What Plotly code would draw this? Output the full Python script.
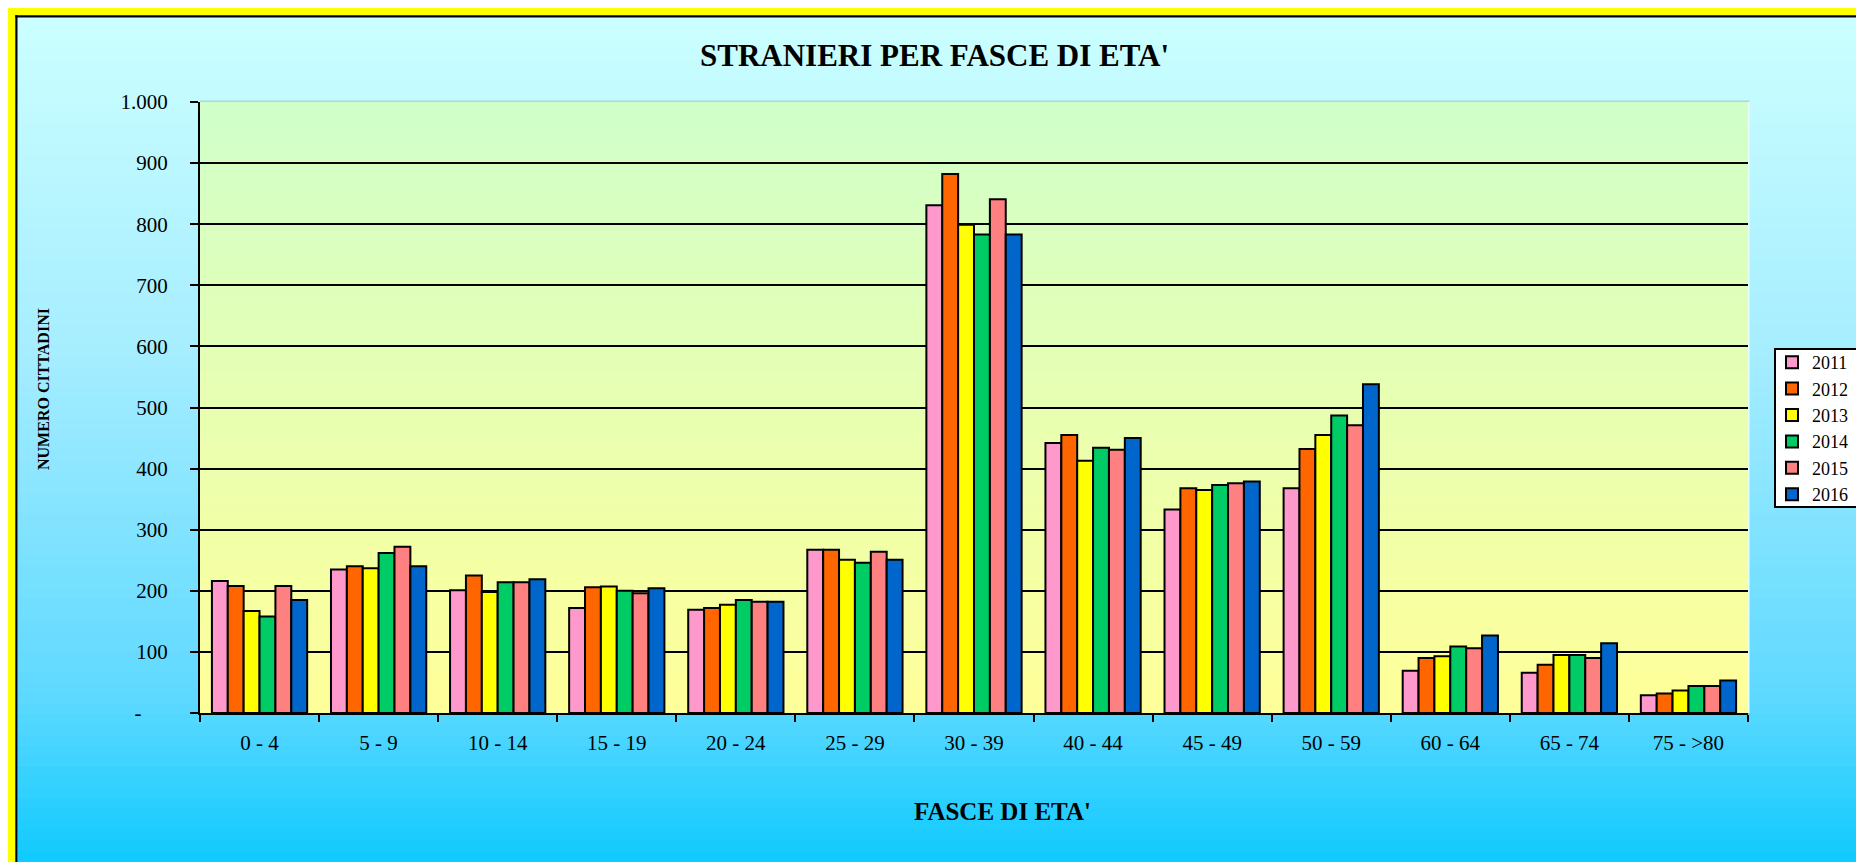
import plotly.graph_objects as go

# ---------------- data ----------------
categories = ["0 - 4", "5 - 9", "10 - 14", "15 - 19", "20 - 24", "25 - 29", "30 - 39",
              "40 - 44", "45 - 49", "50 - 59", "60 - 64", "65 - 74", "75 - >80"]
years = ["2011", "2012", "2013", "2014", "2015", "2016"]
v2011 = [216, 235, 201, 172, 169, 267, 831, 442, 333, 368, 69, 66, 29]
v2012 = [208, 240, 225, 206, 172, 267, 882, 455, 368, 432, 90, 79, 32]
v2013 = [167, 237, 198, 207, 177, 251, 799, 413, 365, 455, 93, 95, 37]
v2014 = [158, 262, 214, 200, 185, 246, 783, 434, 373, 487, 109, 95, 44]
v2015 = [208, 272, 214, 196, 182, 264, 841, 431, 376, 471, 106, 90, 44]
v2016 = [185, 240, 219, 204, 182, 251, 783, 450, 379, 538, 127, 114, 53]
series = [v2011, v2012, v2013, v2014, v2015, v2016]
colors = ["#FF99CC", "#FF6600", "#FFFF00", "#00CC66", "#FF8080", "#0066CC"]

ytick_vals = [0, 100, 200, 300, 400, 500, 600, 700, 800, 900, 1000]
ytick_text = ["-\u2007\u2007\u00a0", "100", "200", "300", "400", "500", "600", "700",
              "800", "900", "1.000"]

# ---------------- geometry (page pixels, body margin removed) ----------------
W, H = 1856, 862
L, R, T, B = 200, 108, 102, 149
PW, PH = W - L - R, H - T - B


def px(x):
    return (x - L) / PW


def py(y):
    return (H - B - y) / PH


def lerp_color(stops, t):
    for i in range(len(stops) - 1):
        t0, c0 = stops[i]
        t1, c1 = stops[i + 1]
        if t0 <= t <= t1:
            f = (t - t0) / (t1 - t0) if t1 > t0 else 0
            c = [round(c0[k] + (c1[k] - c0[k]) * f) for k in range(3)]
            return "rgb(%d,%d,%d)" % tuple(c)
    c = stops[-1][1]
    return "rgb(%d,%d,%d)" % tuple(c)


def rect(x0, y0, x1, y1, color):
    return dict(type="rect", xref="paper", yref="paper", x0=px(x0), x1=px(x1), y0=py(y1), y1=py(y0),
                fillcolor=color, line=dict(width=0), layer="below")


shapes = []
# outer gradient (chart area)
outer_stops = [(0.0, (204, 255, 255)), (0.4, (165, 237, 255)), (0.8, (95, 217, 255)), (1.0, (15, 202, 255))]
n = 80
y_top, y_bot = 17.5, H
for i in range(n):
    a = y_top + (y_bot - y_top) * i / n
    b = y_top + (y_bot - y_top) * (i + 1) / n + (0.8 if i < n - 1 else 0)
    shapes.append(rect(17.5, a, W, b, lerp_color(outer_stops, (i + 0.5) / n)))
# yellow frame (left + top) and black inner line
shapes.append(rect(8, 8, 15.3, H, "#FFFF00"))
shapes.append(rect(8, 8, W, 15.3, "#FFFF00"))
shapes.append(rect(15.3, 15.3, 17.5, H, "#000000"))
shapes.append(rect(15.3, 15.3, W, 17.5, "#000000"))
# plot area gradient
inner_stops = [(0.0, (208, 255, 202)), (1.0, (255, 255, 153))]
n2 = 70
for i in range(n2):
    a = T + PH * i / n2
    b = T + PH * (i + 1) / n2 + (0.8 if i < n2 - 1 else 0)
    shapes.append(rect(L, a, W - R, b, lerp_color(inner_stops, (i + 0.5) / n2)))
# thin light border of the plot area (top and right)
shapes.append(rect(L, T - 1.5, W - R + 1.5, T, "#A8D8E0"))
shapes.append(rect(W - R, T, W - R + 1.5, H - B, "#E8FFF8"))
# legend box (runs past the right edge, as in the original)
shapes.append(rect(1774, 348, W + 5, 508, "#000000"))
shapes.append(rect(1776, 350, W + 5, 506, "#FFFFFF"))

fig = go.Figure()
for name, vals, col in zip(years, series, colors):
    fig.add_trace(go.Bar(x=categories, y=vals, name=name, legendgroup=name,
                         marker=dict(color=col, line=dict(color="#000000", width=2))))

serif = "Liberation Serif, Times New Roman, serif"

annotations = [
    dict(text="<b>STRANIERI PER FASCE DI ETA'</b>", xref="paper", yref="paper",
         x=px(934), y=py(56), xanchor="center", yanchor="middle", showarrow=False,
         font=dict(family=serif, size=31, color="#000000")),
    dict(text="<b>FASCE DI ETA'</b>", xref="paper", yref="paper",
         x=px(1002), y=py(811), xanchor="center", yanchor="middle", showarrow=False,
         font=dict(family=serif, size=25, color="#000000")),
    dict(text="<b>NUMERO CITTADINI</b>", xref="paper", yref="paper", textangle=-90,
         x=px(43), y=py(389), xanchor="center", yanchor="middle", showarrow=False,
         font=dict(family=serif, size=16, color="#000000")),
]

fig.update_layout(
    width=W, height=H,
    margin=dict(l=L, r=R, t=T, b=B, autoexpand=False),
    paper_bgcolor="#FFFFFF",
    plot_bgcolor="rgba(0,0,0,0)",
    barmode="group", bargap=0.2, bargroupgap=0,
    shapes=shapes,
    annotations=annotations,
    showlegend=True,
    legend=dict(x=px(1772), y=py(344), xanchor="left", yanchor="top",
                bgcolor="rgba(0,0,0,0)", borderwidth=0,
                font=dict(family=serif, size=18, color="#000000"),
                tracegroupgap=0, traceorder="normal"),
    font=dict(family=serif, color="#000000"),
)

fig.update_xaxes(
    type="category", showgrid=False, showline=True, linecolor="#000000", linewidth=2,
    ticks="outside", tickson="boundaries", ticklen=7, tickwidth=2, tickcolor="#000000",
    tickfont=dict(family=serif, size=21, color="#000000"), ticklabelstandoff=10,
    zeroline=False,
)
fig.update_yaxes(
    range=[0, 1000], tickvals=ytick_vals, ticktext=ytick_text,
    showgrid=True, gridcolor="#000000", gridwidth=1.6,
    showline=True, linecolor="#000000", linewidth=2,
    ticks="outside", ticklen=8, tickwidth=2, tickcolor="#000000",
    tickfont=dict(family=serif, size=21, color="#000000"), ticklabelstandoff=18,
    zeroline=False,
)

fig.write_html(
    "out.html",
    config={"displayModeBar": False},
    post_script="document.body.style.margin='0';document.documentElement.style.overflow='hidden';",
)
